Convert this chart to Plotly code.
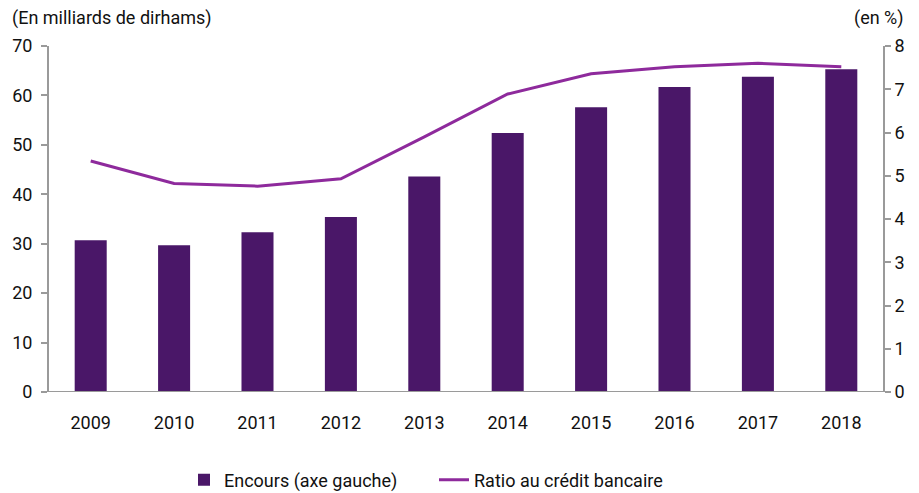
import plotly.graph_objects as go

years = ["2009", "2010", "2011", "2012", "2013", "2014", "2015", "2016", "2017", "2018"]
encours = [30.7, 29.7, 32.3, 35.4, 43.6, 52.4, 57.6, 61.7, 63.8, 65.3]
ratio = [5.34, 4.82, 4.76, 4.93, 5.9, 6.89, 7.36, 7.52, 7.60, 7.52]

left_ticks = [0, 10, 20, 30, 40, 50, 60, 70]
right_ticks = [0, 1, 2, 3, 4, 5, 6, 7, 8]

BAR = "#4A1768"
LINE = "#8E2A9C"
AX = "#9A9A9A"
FONT = "Roboto, sans-serif"

# The page body has an 8px margin, so the figure is 8px smaller than the window.
W, H = 911, 485

fig = go.Figure()
fig.add_trace(go.Bar(x=years, y=encours, name="Encours (axe gauche)",
                     marker=dict(color=BAR, line=dict(width=0)), yaxis="y"))
fig.add_trace(go.Scatter(x=years, y=ratio, name="Ratio au crédit bancaire",
                         mode="lines", line=dict(color=LINE, width=3), yaxis="y2"))

fig.update_layout(
    width=W, height=H,
    margin=dict(l=41, r=36, t=38, b=101),
    plot_bgcolor="white", paper_bgcolor="white",
    font=dict(family=FONT, size=18, color="#111"),
    bargap=0.616,
    showlegend=True,
    legend=dict(orientation="h", xref="container", yref="container",
                x=176/W, y=13/H, xanchor="left", yanchor="middle",
                entrywidth=205, entrywidthmode="pixels",
                font=dict(family=FONT, size=18), itemwidth=30),
    xaxis=dict(type="category", showline=False, showgrid=False, ticks="",
               tickfont=dict(size=18), ticklabelstandoff=18, zeroline=False,
               automargin=False),
    yaxis=dict(range=[0, 70], tickvals=left_ticks, showgrid=False, zeroline=False,
               showline=True, linecolor=AX, linewidth=2, ticks="outside",
               ticklen=6, tickcolor=AX, tickwidth=2, tickfont=dict(size=18),
               ticklabelstandoff=5, automargin=False),
    yaxis2=dict(range=[0, 8], tickvals=right_ticks, overlaying="y", side="right",
                showgrid=False, zeroline=False, showline=True, linecolor=AX,
                linewidth=2, ticks="outside", ticklen=6, tickcolor=AX, tickwidth=2,
                tickfont=dict(size=18), automargin=False),
    shapes=[dict(type="line", xref="paper", yref="y", x0=-6/834, x1=1+4/834,
                 y0=0, y1=0, line=dict(color=AX, width=2))],
    annotations=[
        dict(text="(En milliards de dirhams)", xref="paper", yref="paper",
             x=-39/834, y=1+28/346, xanchor="left", yanchor="middle",
             showarrow=False, font=dict(size=18)),
        dict(text="(en %)", xref="paper", yref="paper",
             x=1+23/834, y=1+28/346, xanchor="right", yanchor="middle",
             showarrow=False, font=dict(size=18)),
    ],
)

fig.write_html("out.html")
